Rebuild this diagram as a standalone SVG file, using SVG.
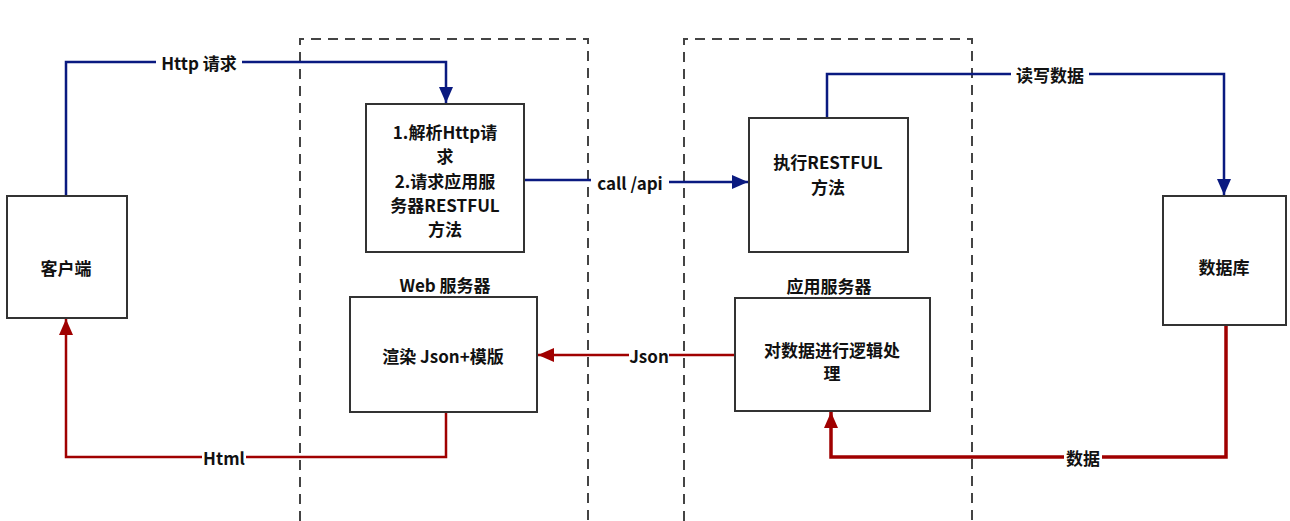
<svg xmlns="http://www.w3.org/2000/svg" width="1290" height="521" viewBox="0 0 1290 521">
<style>
text{font-family:"Noto Sans CJK SC","Liberation Sans",sans-serif;font-weight:bold;font-size:17px;fill:#111;text-anchor:middle;dominant-baseline:central}
.box{fill:#fff;stroke:#333;stroke-width:2}
.zone{fill:none;stroke:#444;stroke-width:2;stroke-dasharray:10 7}
.blue{fill:none;stroke:#0a1a80;stroke-width:2.5}
.red{fill:none;stroke:#a00000;stroke-width:2.5}
.lbl{fill:#fff}
</style>
<defs>
<marker id="ab" markerWidth="16" markerHeight="14" refX="16" refY="7" orient="auto" markerUnits="userSpaceOnUse" viewBox="0 0 16 14"><path d="M0,0 L16,7 L0,14 z" fill="#0a1a80"/></marker>
<marker id="ar" markerWidth="16" markerHeight="14" refX="16" refY="7" orient="auto" markerUnits="userSpaceOnUse" viewBox="0 0 16 14"><path d="M0,0 L16,7 L0,14 z" fill="#a00000"/></marker>
</defs>
<rect width="1290" height="521" fill="#fff"/>
<g id="zones">
<path class="zone" d="M300,521 V39 H588 V521"/>
<path class="zone" d="M684,521 V39 H972 V521"/>
</g>
<g id="connectors">
<path class="blue" d="M66,196 V62 H446 V103" marker-end="url(#ab)"/>
<path class="blue" d="M524,180 H588 L670,182 H748" marker-end="url(#ab)"/>
<path class="blue" d="M827,118 V74 H1224 V195" marker-end="url(#ab)"/>
<path class="red" d="M735,355 H538" marker-end="url(#ar)"/>
<path class="red" d="M446,412 V457 H66 V319" marker-end="url(#ar)"/>
<path class="red" style="stroke-width:3.5" d="M1226,325 V457 H831 V412" marker-end="url(#ar)"/>
<rect class="lbl" x="156" y="52" width="86" height="20"/><text x="199" y="62">Http 请求</text>
<rect class="lbl" x="591" y="172" width="78" height="20"/><text x="630" y="182">call /api</text>
<rect class="lbl" x="1011" y="64" width="78" height="20"/><text x="1050" y="74">读写数据</text>
<rect class="lbl" x="629" y="345" width="40" height="20"/><text x="649" y="355">Json</text>
<rect class="lbl" x="202" y="447" width="44" height="20"/><text x="224" y="457">Html</text>
<rect class="lbl" x="1064" y="447" width="38" height="20"/><text x="1083" y="457">数据</text>
</g>
<g id="client"><rect class="box" x="7" y="196" width="120" height="122"/><text x="66" y="267">客户端</text></g>
<g id="web-parse"><rect class="box" x="366" y="104" width="158" height="148"/>
<text x="445" y="131">1.解析Http请</text><text x="445" y="155">求</text><text x="445" y="180">2.请求应用服</text><text x="445" y="204">务器RESTFUL</text><text x="445" y="228">方法</text></g>
<g id="web-label"><text x="445" y="284">Web 服务器</text></g>
<g id="web-render"><rect class="box" x="350" y="297" width="187" height="115"/><text x="443" y="355">渲染 Json+模版</text></g>
<g id="app-exec"><rect class="box" x="749" y="118" width="159" height="134"/><text x="828" y="161">执行RESTFUL</text><text x="828" y="186">方法</text></g>
<g id="app-label"><text x="829" y="285">应用服务器</text></g>
<g id="app-logic"><rect class="box" x="735" y="298" width="195" height="113"/><text x="832" y="349">对数据进行逻辑处</text><text x="832" y="372">理</text></g>
<g id="database"><rect class="box" x="1163" y="196" width="123" height="129"/><text x="1224" y="266">数据库</text></g>
</svg>
